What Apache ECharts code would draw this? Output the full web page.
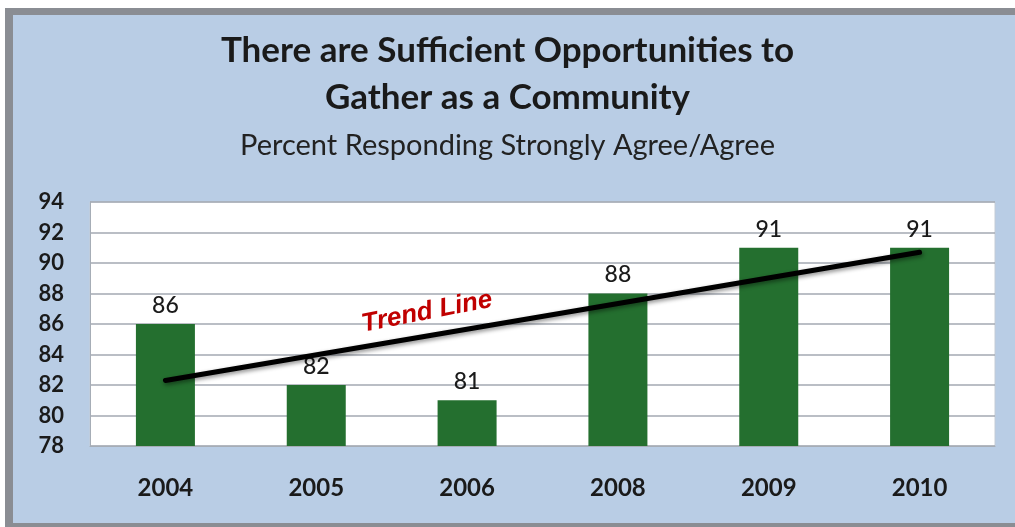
<!DOCTYPE html>
<html>
<head>
<meta charset="utf-8">
<script src="https://cdn.jsdelivr.net/npm/echarts@6/dist/echarts.min.js"></script>
<style>
  html, body { margin: 0; padding: 0; background: #ffffff; }
  #chart { width: 1015px; height: 527px; }
</style>
</head>
<body>
<div id="chart"></div>
<script>
// Survey years and share of respondents who strongly agree / agree
const years = ['2004', '2005', '2006', '2008', '2009', '2010'];
const percentAgree = [86, 82, 81, 88, 91, 91];

// Fitted trend line end points (first and last survey year)
const trendYears = ['2004', '2010'];
const trendValues = [82.3, 90.7];

// Value axis range and tick step
const axisMin = 78;
const axisMax = 94;
const axisStep = 2;

const titleLines = ['There are Sufficient Opportunities to', 'Gather as a Community'];
const subtitleText = 'Percent Responding Strongly Agree/Agree';
const trendLabel = 'Trend Line';

const chart = echarts.init(document.getElementById('chart'), null, { renderer: 'canvas' });

const FONT = 'Lato, "Open Sans", sans-serif';

chart.setOption({
  backgroundColor: '#ffffff',
  animation: false,
  graphic: [
    // outer frame and panel
    { type: 'rect', z: -10, silent: true,
      shape: { x: 5, y: 8, width: 1010, height: 519 },
      style: { fill: '#8a8d93' } },
    { type: 'rect', z: -9, silent: true,
      shape: { x: 13, y: 15, width: 1002, height: 508 },
      style: { fill: '#b9cde5' } },
    // headings
    { type: 'text', z: 5, left: 'center', top: 33,
      style: { text: titleLines[0], font: 'bold 35px ' + FONT, fill: '#1a1a1a' } },
    { type: 'text', z: 5, left: 'center', top: 80,
      style: { text: titleLines[1], font: 'bold 35px ' + FONT, fill: '#1a1a1a' } },
    { type: 'text', z: 5, left: 'center', top: 131,
      style: { text: subtitleText, font: '29px ' + FONT, fill: '#222222' } },
    // annotation next to the fitted line
    { type: 'text', z: 20, x: 427, y: 312, rotation: 11 * Math.PI / 180,
      style: { text: trendLabel, font: 'italic bold 26px "Liberation Sans", Arial, sans-serif',
               fill: '#c00000', align: 'center', verticalAlign: 'middle' } }
  ],
  grid: {
    left: 90, right: 20, top: 202, bottom: 81,
    show: true, backgroundColor: '#ffffff', borderColor: '#c4ccd6', borderWidth: 1
  },
  xAxis: {
    type: 'category',
    data: years,
    axisTick: { show: false },
    axisLine: { show: true, lineStyle: { color: '#a6adb6', width: 1 } },
    axisLabel: { margin: 30, color: '#1a1a1a', fontFamily: FONT, fontWeight: 'bold', fontSize: 24 }
  },
  yAxis: {
    type: 'value',
    min: axisMin, max: axisMax, interval: axisStep,
    axisTick: { show: false },
    axisLine: { show: true, lineStyle: { color: '#a6adb6', width: 1 } },
    splitLine: { show: true, lineStyle: { color: '#a3a9b2', width: 1.5 } },
    axisLabel: { margin: 26, color: '#1a1a1a', fontFamily: FONT, fontWeight: 'bold', fontSize: 22 }
  },
  series: [
    {
      type: 'bar',
      data: percentAgree,
      barWidth: 59,
      itemStyle: { color: '#246f2f' },
      label: {
        show: true, position: 'top', distance: 7,
        color: '#1a1a1a', fontFamily: FONT, fontWeight: 500, fontSize: 23
      },
      z: 2
    },
    {
      type: 'line',
      data: trendYears.map((y, i) => [y, trendValues[i]]),
      symbol: 'none',
      lineStyle: { color: '#000000', width: 5, cap: 'round',
                   shadowColor: 'rgba(0,0,0,0.45)', shadowBlur: 4, shadowOffsetX: 1, shadowOffsetY: 2 },
      z: 10
    }
  ]
});
</script>
</body>
</html>
